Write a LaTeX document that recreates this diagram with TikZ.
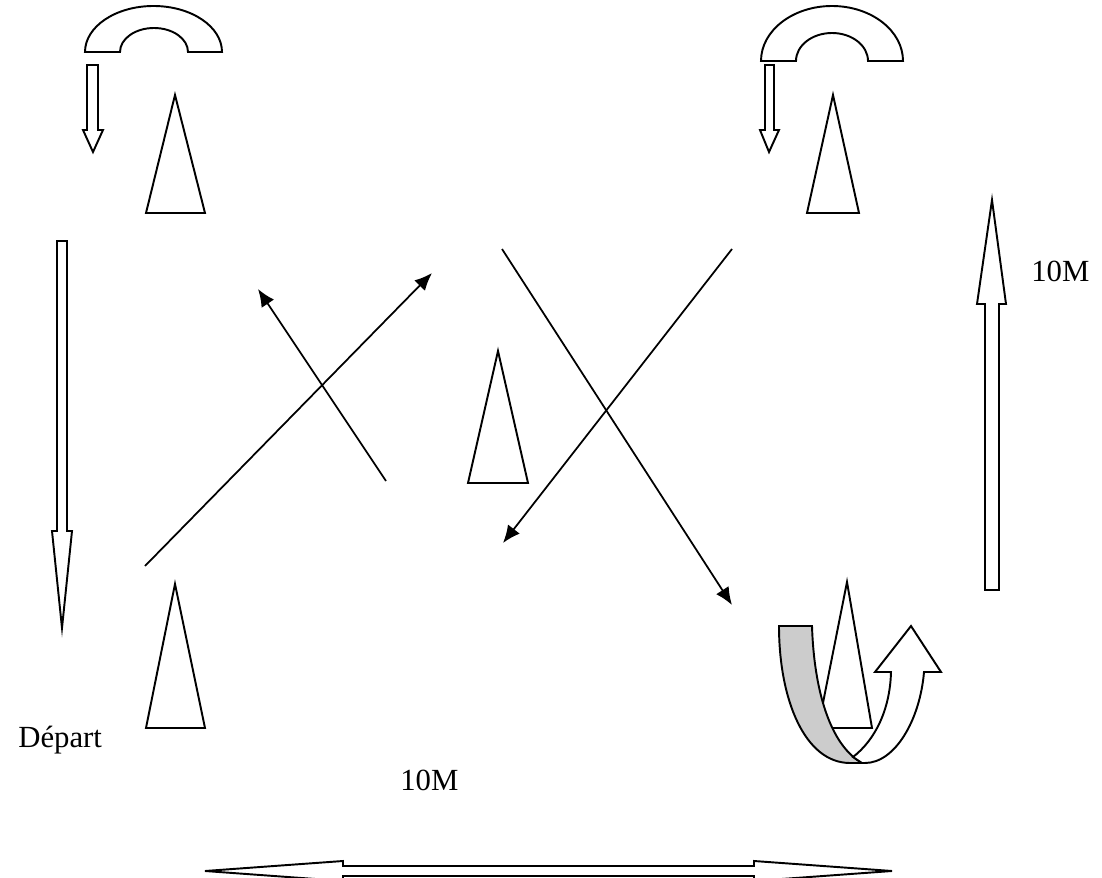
\documentclass[tikz,border=0pt]{standalone}
\usepackage{fontspec}
\setmainfont{Liberation Serif}
\usetikzlibrary{arrows.meta}

\begin{document}
\begin{tikzpicture}[
  x=0.02cm, y=-0.02cm,
  outline/.style={draw, line width=1.1pt, fill=white, line join=miter},
  cone/.style={outline},
  arr/.style={-{Latex[length=10pt,width=8.5pt]}, line width=1pt},
  lbl/.style={font=\fontsize{17.5}{20}\selectfont, inner sep=0pt, anchor=base west}
]
\clip (0,0) rectangle (1102,878);

% cones
\foreach \bx/\by/\w/\ax/\ay in {146/213/59/175/95, 807/213/52/833/95,
    468/483/60/498/351, 146/728/59/175/584, 818/728/54/847/582}
  \draw[cone] (\bx,\by) -- ++(\w,0) -- (\ax,\ay) -- cycle;

% u-turn arches
\draw[outline] (85,52) arc[start angle=180, end angle=360, x radius=68.5, y radius=46]
  -- (188,52) arc[start angle=0, end angle=-180, x radius=34, y radius=24] -- cycle;
\draw[outline] (761,61) arc[start angle=180, end angle=360, x radius=71, y radius=55]
  -- (868,61) arc[start angle=0, end angle=-180, x radius=36, y radius=28] -- cycle;

% block arrows
\draw[outline] (87,65) -- (98,65) -- (98,130) -- (103,130) -- (93,152)
  -- (83,130) -- (87,130) -- cycle;
\draw[outline] (765,65) -- (774,65) -- (774,130) -- (779,130) -- (769,152)
  -- (760,130) -- (765,130) -- cycle;
\draw[outline] (57,241) -- (67,241) -- (67,531) -- (72,531) -- (62,628)
  -- (52,531) -- (57,531) -- cycle;
\draw[outline] (985,590) -- (999,590) -- (999,304) -- (1006,304) -- (992,200)
  -- (977,304) -- (985,304) -- cycle;
\draw[outline] (205,871) -- (343,861) -- (343,866) -- (754,866) -- (754,861)
  -- (892,871) -- (754,881) -- (754,876) -- (343,876) -- (343,881) -- cycle;

% turning ribbon
\draw[outline, fill=black!20] (779,626) -- (812,626)
  .. controls (814,690) and (830,745) .. (862,763) -- (850,763)
  .. controls (805,763) and (779,700) .. (779,626) -- cycle;
\draw[outline] (875,672) -- (911,626) -- (941,672) -- (924,672)
  .. controls (920,720) and (895,763) .. (865,763) -- (862,763) -- (853,757)
  .. controls (875,740) and (890,710) .. (891,672) -- cycle;

% crossing runs
\coordinate (runAfrom) at (145,566);
\coordinate (runAto)   at (432,273);
\coordinate (runBfrom) at (386,481);
\coordinate (runBto)   at (258,289);
\coordinate (runCfrom) at (502,249);
\coordinate (runCto)   at (732,605);
\coordinate (runDfrom) at (732,249);
\coordinate (runDto)   at (503,543);
\draw[arr] (runAfrom) -- (runAto);
\draw[arr] (runBfrom) -- (runBto);
\draw[arr] (runCfrom) -- (runCto);
\draw[arr] (runDfrom) -- (runDto);

% labels
\node[lbl] (depart) at (18,747) {Départ};
\node[lbl] (sideM)  at (1031,282) {10M};
\node[lbl] (baseM)  at (400,790) {10M};
\end{tikzpicture}
\end{document}
